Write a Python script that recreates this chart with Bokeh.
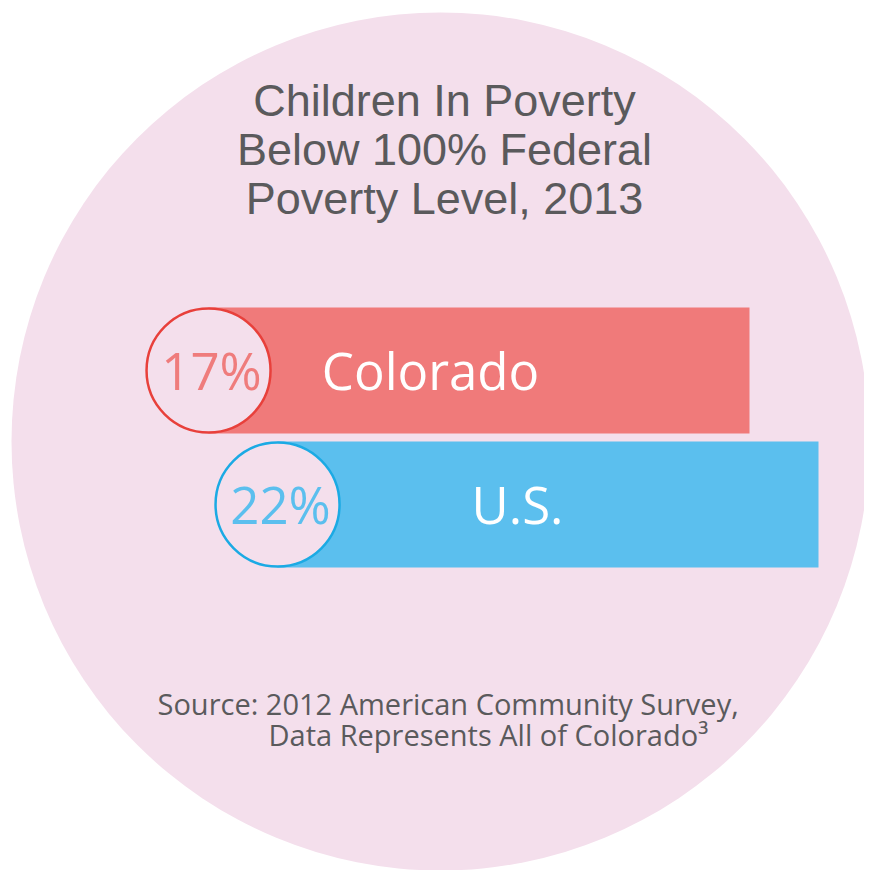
from bokeh.plotting import figure
from bokeh.models import Range1d
from bokeh.core.properties import value
from bokeh.embed import file_html
from bokeh.resources import INLINE

# ---- data ----
regions = ["Colorado", "U.S."]
percent = [17, 22]
pct_labels = ["17%", "22%"]
title_lines = ["Children In Poverty", "Below 100% Federal", "Poverty Level, 2013"]
source_lines = ["Source: 2012 American Community Survey,", "Data Represents All of Colorado\u00b3"]

# ---- layout (page pixels -> data units) ----
PX0 = 514.4   # page x of 0 %
K = 13.8      # page px per percentage point
BAR_LEN = 39.2  # bar length in percentage units


def px(x):
    return (x - PX0) / K


W, H = 864, 870
p = figure(width=W, height=H, output_backend="svg", toolbar_location=None,
           x_range=Range1d(px(0), px(W)), y_range=Range1d(H, 0),
           x_axis_location=None, y_axis_location=None, min_border=0)
p.grid.visible = False
p.outline_line_color = None
p.background_fill_color = "white"
p.border_fill_color = "white"

BG = "#F4DFEC"
# big background disc
p.scatter(x=[px(440)], y=[441], size=858, marker="circle",
          fill_color=BG, line_color=None)

row_y = [370, 504]
bar_colors = ["#F07A7A", "#5BBFEE"]
ring_colors = ["#E8403B", "#1BAAE4"]
pct_colors = ["#EF7C7C", "#5BBFEE"]
left = [v - BAR_LEN for v in percent]

p.hbar(y=row_y, left=left, right=percent, height=126,
       fill_color=bar_colors, line_color=None)
p.scatter(x=left, y=row_y, size=124, marker="circle",
          fill_color=BG, line_color=ring_colors, line_width=2.5)

FS_LBL = 51
base_y = [y + 19 - 0.38 * FS_LBL for y in row_y]
p.text(x=[l + 3 / K for l in left], y=base_y, text=pct_labels, text_color=pct_colors,
       text_font=value("Open Sans"), text_font_size=value(f"{FS_LBL}px"),
       text_align="center", text_baseline="alphabetic")
label_dx = [222, 240]
p.text(x=[l + d / K for l, d in zip(left, label_dx)], y=base_y, text=regions,
       text_color="white",
       text_font=value("Open Sans"), text_font_size=value(f"{FS_LBL}px"),
       text_align="center", text_baseline="alphabetic")

# title
FS_T = 45
p.text(x=[px(444)] * 3, y=[b - 0.38 * FS_T for b in (117, 166, 215)], text=title_lines,
       text_color="#5A5A5C", text_font=value("Liberation Sans"),
       text_font_size=value(f"{FS_T}px"), text_align="center",
       text_baseline="alphabetic")

# source
FS_S = 29
p.text(x=[px(157), px(268)], y=[b - 0.4 * FS_S for b in (715, 746)], text=source_lines,
       text_color="#5A5A5C", text_font=value("Open Sans"),
       text_font_size=value(f"{FS_S}px"), text_align="left",
       text_baseline="alphabetic")

open("out.html", "w").write(file_html(p, INLINE))
